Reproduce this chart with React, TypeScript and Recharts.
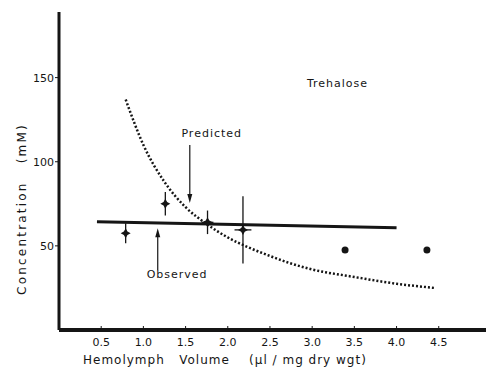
import { ComposedChart, XAxis, YAxis, Line, Scatter, ErrorBar, ReferenceLine, ReferenceDot } from 'recharts';

const xTicks = [0.5, 1.0, 1.5, 2.0, 2.5, 3.0, 3.5, 4.0, 4.5];
const yTicks = [50, 100, 150];

// observed (fitted) line
const observedLine = [
  { x: 0.45, y: 64.3 },
  { x: 4.0, y: 60.7 },
];

// predicted curve (dotted)
const predictedCurve = [
  { x: 0.79, y: 137 },
  { x: 1.0, y: 110 },
  { x: 1.25, y: 88 },
  { x: 1.5, y: 73 },
  { x: 1.75, y: 63 },
  { x: 2.0, y: 55 },
  { x: 2.25, y: 49 },
  { x: 2.5, y: 44 },
  { x: 2.75, y: 39.5 },
  { x: 3.0, y: 36 },
  { x: 3.5, y: 31.5 },
  { x: 4.0, y: 27.5 },
  { x: 4.45, y: 25 },
];

// measured means with error bars
const measured = [
  { x: 0.79, y: 57.5, ey: 6, ex: 0 },
  { x: 1.26, y: 75, ey: 7, ex: 0 },
  { x: 1.76, y: 64, ey: 7, ex: 0.07 },
  { x: 2.18, y: 59.5, ey: 20, ex: 0.1 },
];

const extraPoints = [
  { x: 3.39, y: 47.6 },
  { x: 4.36, y: 47.6 },
];

const arrows = [
  { name: 'Predicted', from: { x: 1.55, y: 110 }, to: { x: 1.55, y: 75.5 } },
  { name: 'Observed', from: { x: 1.17, y: 35.5 }, to: { x: 1.17, y: 60.5 } },
];

const notes = [
  { text: 'Predicted', x: 1.81, y: 117 },
  { text: 'Observed', x: 1.4, y: 33 },
  { text: 'Trehalose', x: 3.3, y: 147 },
];

const ink = '#151515';
const font = '"DejaVu Sans", sans-serif';

const XTick = (props: any) => {
  const { x, y, payload } = props;
  return (
    <g>
      <line x1={x} x2={x} y1={y - 12} y2={y - 8} stroke={ink} strokeWidth={1} />
      <text x={x} y={y} dy="0.71em" textAnchor="middle" fontSize={11} fill={ink} fontFamily={font}>
        {payload.value.toFixed(1)}
      </text>
    </g>
  );
};

const starShape = (props: any) => {
  const { cx, cy } = props;
  const r = 5;
  const w = 1.8;
  return (
    <path
      d={`M${cx},${cy - r} L${cx + w},${cy - w} L${cx + r},${cy} L${cx + w},${cy + w} L${cx},${cy + r} L${cx - w},${cy + w} L${cx - r},${cy} L${cx - w},${cy - w} Z`}
      fill={ink}
    />
  );
};

const dotShape = (props: any) => <circle cx={props.cx} cy={props.cy} r={3.5} fill={ink} />;

const arrowShape = (props: any) => {
  const { x1, y1, x2, y2 } = props;
  if (x1 == null || y1 == null) return <g />;
  const dir = y2 > y1 ? 1 : -1;
  return (
    <g>
      <line x1={x1} y1={y1} x2={x2} y2={y2 - dir * 5} stroke={ink} strokeWidth={1.2} />
      <path d={`M${x2 - 2.5},${y2 - dir * 9} L${x2 + 2.5},${y2 - dir * 9} L${x2},${y2} Z`} fill={ink} />
    </g>
  );
};

export default function App() {
  return (
    <div style={{ position: 'absolute', left: 0, top: 0, background: '#fff' }}>
      <ComposedChart width={486} height={371} margin={{ top: 12, right: 0, bottom: 0, left: 0 }}>
        <XAxis
          type="number"
          dataKey="x"
          domain={[0, 5.06]}
          ticks={xTicks}
          allowDataOverflow
          height={41}
          stroke={ink}
          axisLine={{ stroke: ink, strokeWidth: 4 }}
          tickLine={false}
          tick={<XTick />}
          label={{
            content: (p: any) => (
              <text
                x={p.viewBox.x + 24}
                y={p.viewBox.y + 34}
                fontSize={12}
                letterSpacing={1.0}
                fill={ink}
                fontFamily={font}
                style={{ whiteSpace: 'pre' }}
              >
                {'Hemolymph   Volume    (µl / mg dry wgt)'}
              </text>
            ),
          }}
        />
        <YAxis
          type="number"
          domain={[0, 189]}
          ticks={yTicks}
          width={59}
          axisLine={{ stroke: ink, strokeWidth: 3 }}
          tickLine={{ stroke: ink, strokeWidth: 1 }}
          tickSize={4}
          tickMargin={1}
          tick={{ fontSize: 11, fill: ink, fontFamily: font }}
          label={{
            content: () => (
              <text
                x={22}
                y={209}
                transform="rotate(-90 22 209)"
                textAnchor="middle"
                dominantBaseline="central"
                fontSize={12}
                letterSpacing={2.2}
                fill={ink}
                fontFamily={font}
                style={{ whiteSpace: 'pre' }}
              >
                {'Concentration   (mM)'}
              </text>
            ),
          }}
        />
        <Line
          data={observedLine}
          dataKey="y"
          stroke={ink}
          strokeWidth={3}
          dot={false}
          isAnimationActive={false}
        />
        <Line
          data={predictedCurve}
          dataKey="y"
          type="monotone"
          stroke={ink}
          strokeWidth={2.5}
          strokeDasharray="2 2"
          dot={false}
          isAnimationActive={false}
        />
        <Scatter data={measured} dataKey="y" shape={starShape} fill={ink} isAnimationActive={false}>
          <ErrorBar dataKey="ey" direction="y" width={0} stroke={ink} strokeWidth={1.3} />
          <ErrorBar dataKey="ex" direction="x" width={0} stroke={ink} strokeWidth={1.3} />
        </Scatter>
        <Scatter data={extraPoints} dataKey="y" shape={dotShape} fill={ink} isAnimationActive={false} />
        {arrows.map((a) => (
          <ReferenceLine key={a.name} segment={[a.from, a.to]} shape={arrowShape} />
        ))}
        {notes.map((n) => (
          <ReferenceDot
            key={n.text}
            x={n.x}
            y={n.y}
            r={0}
            stroke="none"
            fill="none"
            label={{ value: n.text, position: 'center', fontSize: 11, fill: ink, fontFamily: font, letterSpacing: 1 }}
          />
        ))}
      </ComposedChart>
    </div>
  );
}
